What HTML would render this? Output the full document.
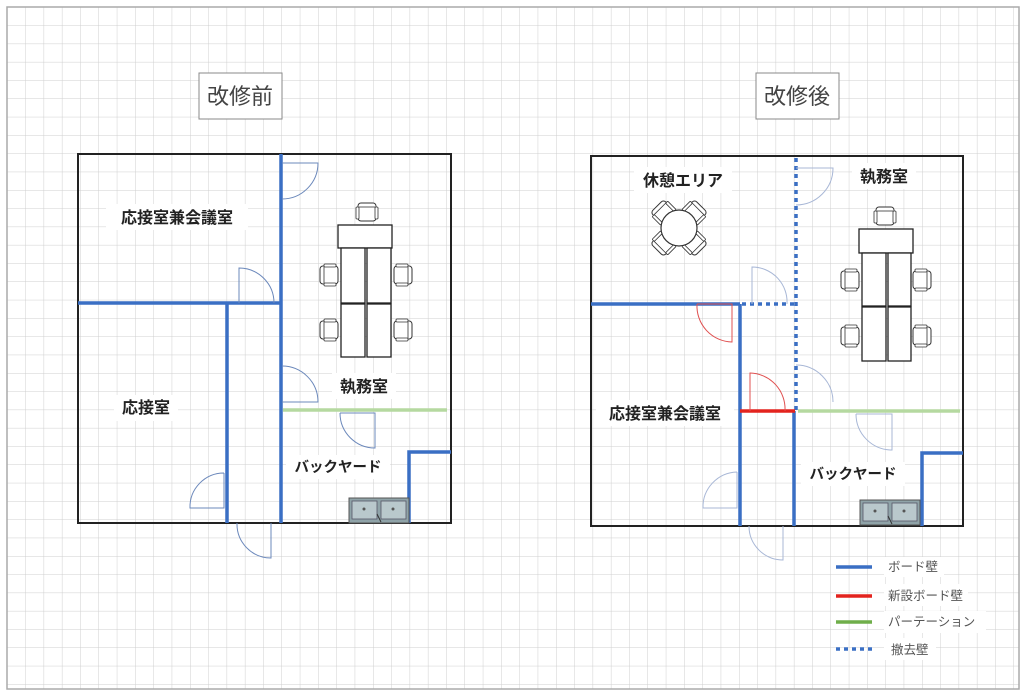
<!DOCTYPE html>
<html><head><meta charset="utf-8"><style>
html,body{margin:0;padding:0;background:#fff;}
svg{display:block;}
text{font-family:"Liberation Sans","Noto Sans CJK JP",sans-serif;}
</style></head><body>
<svg width="1024" height="693" viewBox="0 0 1024 693" xmlns="http://www.w3.org/2000/svg">
<defs>
<pattern id="g" x="7" y="7" width="18.3" height="18.3" patternUnits="userSpaceOnUse">
<path d="M0 0H18.3M0 0V18.3" stroke="#cfcfcf" stroke-width="1" fill="none"/>
</pattern>
<g id="chairV">
<rect x="-9" y="-9" width="18" height="18" rx="3" fill="#fff" stroke="#333" stroke-width="1"/>
<rect x="-11" y="-5" width="3" height="12" rx="1" fill="#fff" stroke="#333" stroke-width="0.8"/>
<rect x="8" y="-5" width="3" height="12" rx="1" fill="#fff" stroke="#333" stroke-width="0.8"/>
<line x1="-8" y1="-5" x2="8" y2="-5" stroke="#333" stroke-width="0.8"/>
</g>
<g id="chairH">
<rect x="-9" y="-9" width="18" height="18" rx="3" fill="#fff" stroke="#333" stroke-width="1"/>
<rect x="-5" y="-11" width="12" height="3" rx="1" fill="#fff" stroke="#333" stroke-width="0.8"/>
<rect x="-5" y="8" width="12" height="3" rx="1" fill="#fff" stroke="#333" stroke-width="0.8"/>
<line x1="-5" y1="-8" x2="-5" y2="8" stroke="#333" stroke-width="0.8"/>
</g>
<g id="sink">
<rect x="0" y="0" width="60" height="25" fill="#8fa3a8" stroke="#555" stroke-width="1"/>
<rect x="3" y="3" width="25" height="18" fill="#b9c8cc" stroke="#556" stroke-width="0.8"/>
<rect x="32" y="3" width="25" height="18" fill="#b9c8cc" stroke="#556" stroke-width="0.8"/>
<circle cx="15" cy="11" r="1.5" fill="#555"/><circle cx="44" cy="11" r="1.5" fill="#555"/>
<path d="M28 16 L32 24" stroke="#333" stroke-width="1"/>
</g>
</defs>
<rect x="0" y="0" width="1024" height="693" fill="#fff"/>
<rect x="7" y="7" width="1012" height="682" fill="url(#g)"/>
<rect x="7" y="7" width="1012" height="682" fill="none" stroke="#aaa" stroke-width="1.5"/>

<!-- titles -->
<rect x="199" y="73" width="83" height="46" fill="#fff" stroke="#888" stroke-width="1"/>
<text x="240" y="104" font-size="22" fill="#444" text-anchor="middle">改修前</text>
<rect x="756" y="73" width="83" height="46" fill="#fff" stroke="#888" stroke-width="1"/>
<text x="797" y="104" font-size="22" fill="#444" text-anchor="middle">改修後</text>

<!-- ========== LEFT PLAN ========== -->
<rect x="78" y="154" width="373" height="369" fill="none" stroke="#222" stroke-width="2"/>
<g stroke="#3a6fc4" stroke-width="3.5" fill="none">
<line x1="281" y1="154" x2="281" y2="523"/>
<line x1="78" y1="303" x2="281" y2="303"/>
<line x1="227" y1="303" x2="227" y2="523"/>
<polyline points="409,523 409,452 451,452"/>
</g>
<line x1="283" y1="410" x2="447" y2="410" stroke="#b5d9a0" stroke-width="3.5"/>
<g stroke="#6b88bb" stroke-width="1" fill="none">
<path d="M282 163 H318 A36 36 0 0 1 282 199"/>
<path d="M239 303 V268 A35 35 0 0 1 274 303"/>
<path d="M282 366 A36 36 0 0 1 318 402 H282"/>
<path d="M340 413 H375 V448 A35 35 0 0 1 340 413"/>
<path d="M224 473 V508 H190 A34 34 0 0 1 224 473"/>
<path d="M271 523 V558 A34 34 0 0 1 237 523"/>
</g>
<!-- furniture left -->
<use href="#chairV" x="367" y="212"/>
<rect x="338" y="225" width="54" height="23" fill="#fff" stroke="#222" stroke-width="1.3"/>
<g fill="#fff" stroke="#222" stroke-width="1.3">
<rect x="341" y="248" width="24" height="55"/><rect x="367" y="248" width="24" height="55"/>
<rect x="341" y="304" width="24" height="53"/><rect x="367" y="304" width="24" height="53"/>
</g>
<use href="#chairH" x="329" y="275"/><use href="#chairH" x="329" y="330"/>
<g transform="translate(403,275) scale(-1,1)"><use href="#chairH"/></g>
<g transform="translate(403,330) scale(-1,1)"><use href="#chairH"/></g>
<use href="#sink" x="349" y="498"/>
<!-- labels left -->
<rect x="106" y="204" width="142" height="26" fill="#fff"/>
<text x="177" y="223" font-size="16" font-weight="bold" fill="#222" text-anchor="middle">応接室兼会議室</text>
<rect x="114" y="395" width="64" height="26" fill="#fff"/>
<text x="146" y="413" font-size="16" font-weight="bold" fill="#222" text-anchor="middle">応接室</text>
<rect x="332" y="373" width="64" height="26" fill="#fff"/>
<text x="364" y="392" font-size="16" font-weight="bold" fill="#222" text-anchor="middle">執務室</text>
<rect x="286" y="455" width="104" height="24" fill="#fff"/>
<text x="338" y="472" font-size="14.5" font-weight="bold" fill="#222" text-anchor="middle">バックヤード</text>

<!-- ========== RIGHT PLAN ========== -->
<rect x="591" y="156" width="372" height="370" fill="none" stroke="#222" stroke-width="2"/>
<g stroke="#3a6fc4" stroke-width="3.5" fill="none">
<line x1="591" y1="304" x2="740" y2="304"/>
<line x1="740" y1="304" x2="740" y2="526"/>
<line x1="794" y1="411" x2="794" y2="526"/>
<polyline points="922,526 922,453 963,453"/>
</g>
<g stroke="#3a6fc4" stroke-width="3.5" fill="none" stroke-dasharray="4,4">
<line x1="796" y1="158" x2="796" y2="410"/>
<line x1="742" y1="304" x2="796" y2="304"/>
</g>
<line x1="740" y1="411" x2="795" y2="411" stroke="#e3231e" stroke-width="3.5"/>
<line x1="798" y1="411" x2="960" y2="411" stroke="#b5d9a0" stroke-width="3.5"/>
<g stroke="#a8b7d6" stroke-width="1" fill="none">
<path d="M796 168 H833 A37 37 0 0 1 796 205"/>
<path d="M752 304 V267 A35 35 0 0 1 787 304"/>
<path d="M796 365 A37 37 0 0 1 833 402"/>
<path d="M856 414 H892 V450 A36 36 0 0 1 856 414"/>
<path d="M737 472 V508 H703 A35 35 0 0 1 737 472"/>
<path d="M783 526 V560 A34 34 0 0 1 749 526"/>
</g>
<g stroke="#e05050" stroke-width="1" fill="none">
<path d="M697 304 H732 V342 A36 36 0 0 1 697 304"/>
<path d="M750 411 V373 A36 36 0 0 1 785 411"/>
</g>
<!-- round table -->
<g transform="translate(679,228)">
<g transform="rotate(-45)"><use href="#chairV" x="0" y="-22"/></g>
<g transform="rotate(45)"><use href="#chairV" x="0" y="-22"/></g>
<g transform="rotate(135)"><use href="#chairV" x="0" y="-22"/></g>
<g transform="rotate(-135)"><use href="#chairV" x="0" y="-22"/></g>
<circle r="18" fill="#fff" stroke="#333" stroke-width="1.2"/>
</g>
<!-- furniture right -->
<use href="#chairV" x="885" y="216"/>
<rect x="859" y="229" width="54" height="24" fill="#fff" stroke="#222" stroke-width="1.3"/>
<g fill="#fff" stroke="#222" stroke-width="1.3">
<rect x="862" y="253" width="24" height="53"/><rect x="888" y="253" width="23" height="53"/>
<rect x="862" y="307" width="24" height="54"/><rect x="888" y="307" width="23" height="54"/>
</g>
<use href="#chairH" x="850" y="280"/><use href="#chairH" x="850" y="336"/>
<g transform="translate(922,280) scale(-1,1)"><use href="#chairH"/></g>
<g transform="translate(922,336) scale(-1,1)"><use href="#chairH"/></g>
<use href="#sink" x="860" y="500"/>
<!-- labels right -->
<rect x="634" y="167" width="98" height="26" fill="#fff"/>
<text x="683" y="186" font-size="16" font-weight="bold" fill="#222" text-anchor="middle">休憩エリア</text>
<rect x="852" y="163" width="64" height="26" fill="#fff"/>
<text x="884" y="182" font-size="16" font-weight="bold" fill="#222" text-anchor="middle">執務室</text>
<rect x="596" y="400" width="138" height="26" fill="#fff"/>
<text x="665" y="419" font-size="16" font-weight="bold" fill="#222" text-anchor="middle">応接室兼会議室</text>
<rect x="801" y="462" width="104" height="24" fill="#fff"/>
<text x="853" y="479" font-size="14.5" font-weight="bold" fill="#222" text-anchor="middle">バックヤード</text>

<!-- legend -->
<line x1="836" y1="567" x2="872" y2="567" stroke="#3a6fc4" stroke-width="3.5"/>
<line x1="836" y1="596" x2="872" y2="596" stroke="#e3231e" stroke-width="3.5"/>
<line x1="836" y1="622" x2="872" y2="622" stroke="#6fae4a" stroke-width="3.5"/>
<line x1="836" y1="649" x2="872" y2="649" stroke="#3a6fc4" stroke-width="3.5" stroke-dasharray="4,4"/>
<g font-size="12.5" fill="#555">
<rect x="884" y="557" width="60" height="20" fill="#fff"/>
<text x="888" y="571">ボード壁</text>
<rect x="884" y="584" width="84" height="22" fill="#fff"/>
<text x="888" y="600">新設ボード壁</text>
<rect x="884" y="611" width="102" height="22" fill="#fff"/>
<text x="888" y="626">パーテーション</text>
<rect x="884" y="638" width="52" height="22" fill="#fff"/>
<text x="891" y="654">撤去壁</text>
</g>
</svg>
</body></html>
